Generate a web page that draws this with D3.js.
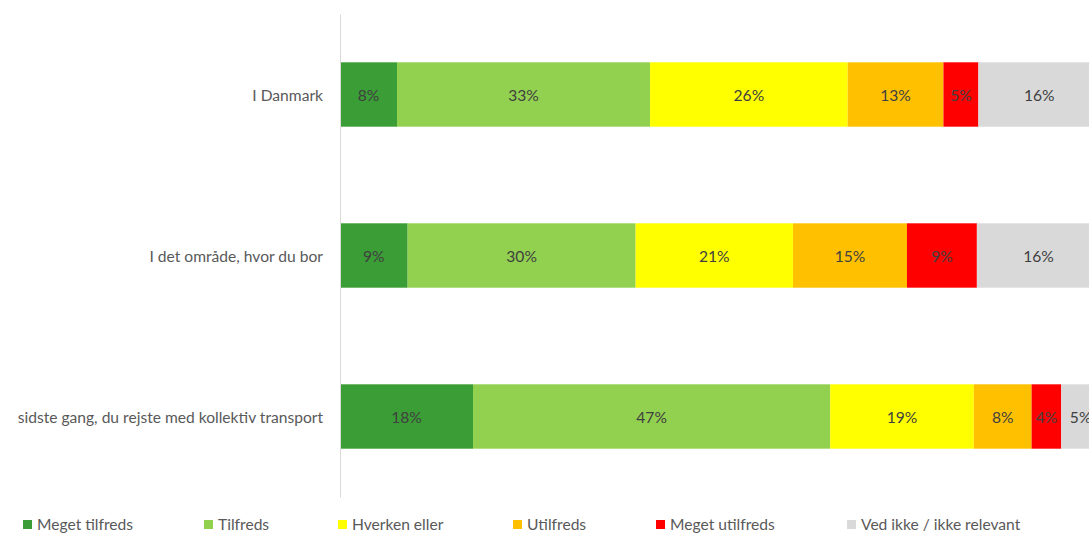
<!DOCTYPE html>
<html>
<head>
<meta charset="utf-8">
<script src="https://cdn.jsdelivr.net/npm/d3@7"></script>
<style>
  html, body { margin: 0; padding: 0; background: #fff; }
  svg { display: block; font-family: Lato, "Open Sans", sans-serif; }
</style>
</head>
<body>
<svg id="chart" width="1089" height="533"></svg>
<script>
// Survey questions (rows, top to bottom)
const categories = [
  "I Danmark",
  "I det område, hvor du bor",
  "sidste gang, du rejste med kollektiv transport"
];

// Answer options (stack order, left to right)
const seriesNames = [
  "Meget tilfreds",
  "Tilfreds",
  "Hverken eller",
  "Utilfreds",
  "Meget utilfreds",
  "Ved ikke / ikke relevant"
];

const seriesColors = ["#3a9d35", "#92d050", "#ffff00", "#ffc000", "#ff0000", "#d9d9d9"];

// Share of respondents in percent, one array per answer option (rows follow `categories`)
const megetTilfreds  = [7.5, 8.9, 17.5];
const tilfreds       = [33.3, 30.0, 47.0];
const hverkenEller   = [26.0, 20.7, 18.9];
const utilfreds      = [12.6, 15.0, 7.6];
const megetUtilfreds = [4.6, 9.2, 3.9];
const vedIkke        = [16.0, 16.2, 5.1];

const seriesValues = [megetTilfreds, tilfreds, hverkenEller, utilfreds, megetUtilfreds, vedIkke];

// Table for d3.stack
const rows = categories.map((c, i) => {
  const r = { category: c };
  seriesNames.forEach((s, j) => { r[s] = seriesValues[j][i]; });
  return r;
});

const FONT = 15.6;
const svg = d3.select("#chart");

const x = d3.scaleLinear().domain([0, 100]).range([340, 1100]);
const y = d3.scaleBand().domain(categories).range([14, 497])
  .paddingInner(0.6).paddingOuter(0.3);
const color = d3.scaleOrdinal().domain(seriesNames).range(seriesColors);

const stacked = d3.stack().keys(seriesNames)(rows);

// Bars
const layers = svg.append("g").selectAll("g")
  .data(stacked).join("g")
  .attr("fill", d => color(d.key));

layers.selectAll("rect")
  .data(d => d)
  .join("rect")
  .attr("x", d => x(d[0]))
  .attr("y", d => y(d.data.category))
  .attr("width", d => x(d[1]) - x(d[0]))
  .attr("height", y.bandwidth());

// Value labels centred in each segment
layers.selectAll("text")
  .data(d => d)
  .join("text")
  .attr("x", d => (x(d[0]) + x(d[1])) / 2)
  .attr("y", d => y(d.data.category) + y.bandwidth() / 2)
  .attr("dy", "0.4em")
  .attr("text-anchor", "middle")
  .attr("fill", "#404040")
  .attr("font-size", FONT)
  .text(d => Math.round(d[1] - d[0]) + "%");

// Category axis
const axis = svg.append("g")
  .attr("transform", `translate(${x(0)},0)`)
  .call(d3.axisLeft(y).tickSize(0).tickPadding(17).tickSizeOuter(0));
axis.select(".domain").attr("stroke", "#d9d9d9");
axis.selectAll("text")
  .attr("fill", "#595959")
  .attr("font-size", FONT)
  .attr("dy", "0.4em")
  .attr("font-family", "Lato, 'Open Sans', sans-serif");

// Legend
const legendX = [23, 204, 338, 513, 656, 847];
const legend = svg.append("g").selectAll("g")
  .data(seriesNames).join("g")
  .attr("transform", (d, i) => `translate(${legendX[i]},520)`);
legend.append("rect")
  .attr("width", 9).attr("height", 9)
  .attr("fill", d => color(d));
legend.append("text")
  .attr("x", 14).attr("y", 4.5).attr("dy", "0.38em")
  .attr("fill", "#595959").attr("font-size", FONT)
  .text(d => d);
</script>
</body>
</html>
